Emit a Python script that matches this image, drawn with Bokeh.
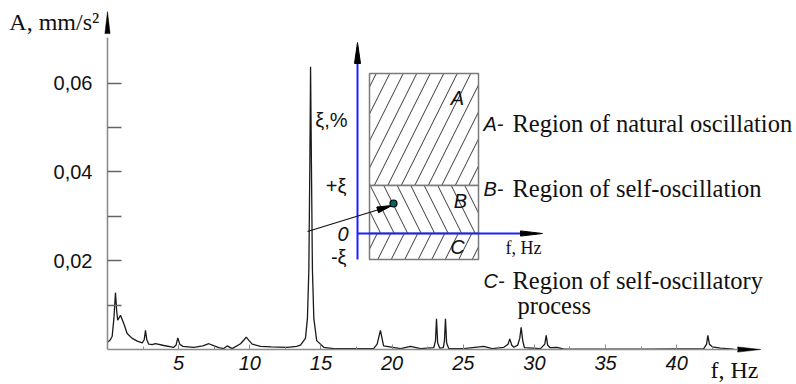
from bokeh.plotting import figure
from bokeh.models import (Range1d, LinearAxis, FixedTicker, CustomJSTickFormatter,
                          Label)
from bokeh.embed import file_html
from bokeh.resources import INLINE

# ---------------- data: acceleration amplitude spectrum ----------------
freq = [0.0, 0.2, 0.33, 0.45, 0.56, 0.65, 0.72, 0.91, 1.15, 1.38, 1.74, 2.09,
        2.44, 2.58, 2.67, 2.76, 2.9, 3.14, 3.37, 3.96, 4.66, 4.82, 4.94, 5.08,
        5.3, 6.06, 6.7, 7.12, 7.5, 7.82, 8.17, 8.41, 8.76, 9.35, 9.6, 9.75,
        9.95, 10.17, 10.75, 11.5, 12.63, 13.3, 13.56, 13.91, 14.05, 14.15,
        14.22, 14.27, 14.33, 14.4, 14.5, 14.7, 15.2, 15.9, 17.5, 18.7, 18.95,
        19.18, 19.4, 20.6, 21.3, 22.0, 22.93, 23.05, 23.12, 23.2, 23.35, 23.6,
        23.68, 23.75, 23.83, 23.98, 25.04, 26.44, 27.03, 27.85, 28.15, 28.27,
        28.4, 28.55, 28.83, 28.97, 29.07, 29.18, 29.3, 30.43, 30.73, 30.83,
        30.93, 31.1, 31.6, 32.07, 35.0, 38.0, 41.9, 42.1, 42.19, 42.3, 42.5,
        43.08, 44.0]
amp = [0.0016, 0.0022, 0.0030, 0.0070, 0.0128, 0.0085, 0.0066, 0.0077, 0.0058,
       0.0036, 0.0025, 0.0019, 0.0015, 0.0022, 0.0043, 0.0022, 0.0012, 0.0011,
       0.0013, 0.0009, 0.0005, 0.0010, 0.0026, 0.0012, 0.0007, 0.0005, 0.0008,
       0.0013, 0.0008, 0.0004, 0.0002, 0.0008, 0.0002, 0.0013, 0.0022, 0.0028,
       0.0020, 0.0012, 0.0007, 0.0006, 0.0005, 0.0007, 0.0010, 0.0025, 0.0070,
       0.0180, 0.0420, 0.0637, 0.0420, 0.0180, 0.0070, 0.0020, 0.0005, 0.0002,
       0.0002, 0.0002, 0.0012, 0.0043, 0.0008, 0.0002, 0.0007, 0.0002, 0.0004,
       0.0020, 0.0069, 0.0015, 0.0003, 0.0004, 0.0020, 0.0069, 0.0015, 0.0002,
       0.0002, 0.0007, 0.0002, 0.0005, 0.0012, 0.0024, 0.0010, 0.0005, 0.0010,
       0.0025, 0.0050, 0.0020, 0.0004, 0.0002, 0.0012, 0.0032, 0.0010, 0.0004,
       0.0005, 0.0001, 0.0001, 0.0001, 0.0002, 0.0012, 0.0032, 0.0012, 0.0006,
       0.0003, 0.0001]

x_ticks = [5, 10, 15, 20, 25, 30, 35, 40]
x_minor_ticks = [2.5, 7.5, 12.5, 17.5, 22.5, 27.5, 32.5, 37.5, 42.5]
y_ticks = [0.02, 0.04, 0.06]
y_minor_ticks = [0.01, 0.03, 0.05]

# ---------------- inset schematic (own unit system) ----------------
region_names = ["A", "B", "C"]
region_bottom = [4.8, 0.0, -2.6]
region_top = [16.0, 4.8, 0.0]
region_hatch = ["/", "\\", "/"]
region_left, region_right = 1.2, 12.1
legend_keys = ["A-", "B-", "C-"]
legend_lines = ["Region of natural oscillation", "Region of self-oscillation",
                "Region of self-oscillatory"]
legend_extra = "process"

# ---------------- geometry ----------------
W, H = 796, 384
PX_HZ = 14.23          # px per Hz
PX_A = 4440.0          # px per unit amplitude
X0 = 107               # canvas px of f = 0
Y0 = 349               # canvas px (from top) of A = 0
PX_I = 10.0            # px per inset unit
IX0, IY0 = 357, 233    # canvas px of inset origin

p = figure(width=W, height=H, output_backend="svg", toolbar_location=None,
           x_range=Range1d(-X0 / PX_HZ, (W - X0) / PX_HZ),
           y_range=Range1d(-(H - Y0) / PX_A, Y0 / PX_A),
           x_axis_type=None, y_axis_type=None, min_border=0)
p.outline_line_color = None
p.background_fill_color = "white"
p.extra_x_ranges = {"ix": Range1d(-IX0 / PX_I, (W - IX0) / PX_I)}
p.extra_y_ranges = {"iy": Range1d(-(H - IY0) / PX_I, IY0 / PX_I)}

AX_COL = "#8c8c8c"
SANS = "Liberation Sans"
SERIF = "Liberation Serif"

X_AXIS_END = 44.27
X_TIP = 45.9
Y_AXIS_END = 0.0703
Y_TIP = 0.0761

xaxis = LinearAxis(fixed_location=0, bounds=(0, X_AXIS_END),
                   ticker=FixedTicker(ticks=x_ticks, minor_ticks=x_minor_ticks),
                   axis_line_color=AX_COL, axis_line_width=1.6,
                   major_tick_in=5, major_tick_out=0, minor_tick_in=3,
                   minor_tick_out=0, major_tick_line_color=AX_COL,
                   minor_tick_line_color=AX_COL,
                   major_label_text_font=SANS,
                   major_label_text_font_style="italic",
                   major_label_text_font_size="20px",
                   major_label_text_color="#111111",
                   major_label_standoff=6)
p.add_layout(xaxis, "below")

yaxis = LinearAxis(fixed_location=0, bounds=(0, Y_AXIS_END),
                   ticker=FixedTicker(ticks=y_ticks, minor_ticks=y_minor_ticks),
                   formatter=CustomJSTickFormatter(
                       code="return tick.toFixed(2).replace('.', ',')"),
                   axis_line_color=AX_COL, axis_line_width=1.6,
                   major_tick_in=14, major_tick_out=0, minor_tick_in=14,
                   minor_tick_out=0, major_tick_line_color="#666666",
                   minor_tick_line_color="#666666", major_tick_line_width=1.3,
                   minor_tick_line_width=1.3,
                   major_label_text_font=SANS,
                   major_label_text_font_size="20px",
                   major_label_text_color="#111111",
                   major_label_standoff=15)
p.add_layout(yaxis, "left")


def head(tip_x, tip_y, dx, dy, length_px, half_px, sx, sy):
    """Arrow-head triangle; (dx, dy) unit direction in pixel space."""
    bx = tip_x - dx * length_px / sx
    by = tip_y - dy * length_px / sy
    nx, ny = -dy, dx
    xs = [tip_x, bx + nx * half_px / sx, bx - nx * half_px / sx]
    ys = [tip_y, by + ny * half_px / sy, by - ny * half_px / sy]
    return xs, ys


# main axes arrow heads
hx, hy = head(0, Y_TIP, 0, 1, 22, 2.6, PX_HZ, PX_A)
p.patch(hx, hy, fill_color="black", line_color="black", line_width=0.5)
hx, hy = head(X_TIP, 0, 1, 0, 23, 2.6, PX_HZ, PX_A)
p.patch(hx, hy, fill_color="black", line_color="black", line_width=0.5)

# spectrum
p.line(freq, amp, line_color="#1a1a1a", line_width=1.3)

# ---------------- inset ----------------
for name, b, t, h in zip(region_names, region_bottom, region_top, region_hatch):
    p.quad(left=region_left, right=region_right, bottom=b, top=t,
           fill_color="white", hatch_pattern=h, hatch_scale=27,
           hatch_color="#222222", hatch_weight=0.9, line_color="#7a7a7a",
           line_width=1.5, x_range_name="ix", y_range_name="iy")

BLUE = "#1f1fff"
p.line([0, 0], [-2.6, 17.0], line_color=BLUE, line_width=2,
       x_range_name="ix", y_range_name="iy")
hx, hy = head(0, 19.1, 0, 1, 21, 3, PX_I, PX_I)
p.patch(hx, hy, fill_color="black", line_color="black",
        x_range_name="ix", y_range_name="iy")
p.line([0, 16.3], [0, 0], line_color=BLUE, line_width=2,
       x_range_name="ix", y_range_name="iy")
hx, hy = head(18.5, 0, 1, 0, 22, 2.6, PX_I, PX_I)
p.patch(hx, hy, fill_color="black", line_color="black",
        x_range_name="ix", y_range_name="iy")

# pointer from spectrum peak to operating point
sx0, sy0, ex, ey = -5.0, 0.2, 3.45, 2.8
p.line([sx0, ex], [sy0, ey], line_color="#111111", line_width=1.3,
       x_range_name="ix", y_range_name="iy")
ln = ((ex - sx0) ** 2 + (ey - sy0) ** 2) ** 0.5
hx, hy = head(ex, ey, (ex - sx0) / ln, (ey - sy0) / ln, 15, 3, PX_I, PX_I)
p.patch(hx, hy, fill_color="black", line_color="black",
        x_range_name="ix", y_range_name="iy")
p.scatter([3.6], [3.0], size=7, fill_color="#006666", line_color="black",
          line_width=1.2, x_range_name="ix", y_range_name="iy")


def lab(x, y, text, font=SANS, size=20, style="normal", align="left",
        xr="ix", yr="iy", color="#111111"):
    kw = {}
    if xr:
        kw["x_range_name"] = xr
    if yr:
        kw["y_range_name"] = yr
    p.add_layout(Label(x=x, y=y, text=text, text_font=font,
                       text_font_size=f"{size}px", text_font_style=style,
                       text_align=align, text_baseline="middle",
                       text_color=color, **kw))


lab(-1.0, 11.4, "ξ,%", align="right")
lab(-1.1, 4.8, "+ξ", align="right")
lab(-0.9, 0.0, "0", style="italic", align="right")
lab(-1.1, -2.3, "-ξ", align="right")
lab(10.0, 13.6, "A", style="italic", align="center")
lab(10.3, 3.3, "B", style="italic", align="center")
lab(10.0, -1.3, "C", style="italic", align="center")
lab(14.8, -1.4, "f, Hz", font=SERIF, size=18)

legend_y = [11.0, 4.5, -4.7]
for k, t, y in zip(legend_keys, legend_lines, legend_y):
    lab(12.6, y, k, style="italic")
    lab(15.5, y, t, font=SERIF, size=24.5)
lab(16.0, -7.2, legend_extra, font=SERIF, size=24.5)

# main axis titles
lab(-6.9, 0.07365, "A, mm/s²", font=SERIF, size=24, xr=None, yr=None)
lab(42.37, -0.0047, "f, Hz", font=SERIF, size=24, xr=None, yr=None)

open("out.html", "w").write(file_html(p, INLINE))
